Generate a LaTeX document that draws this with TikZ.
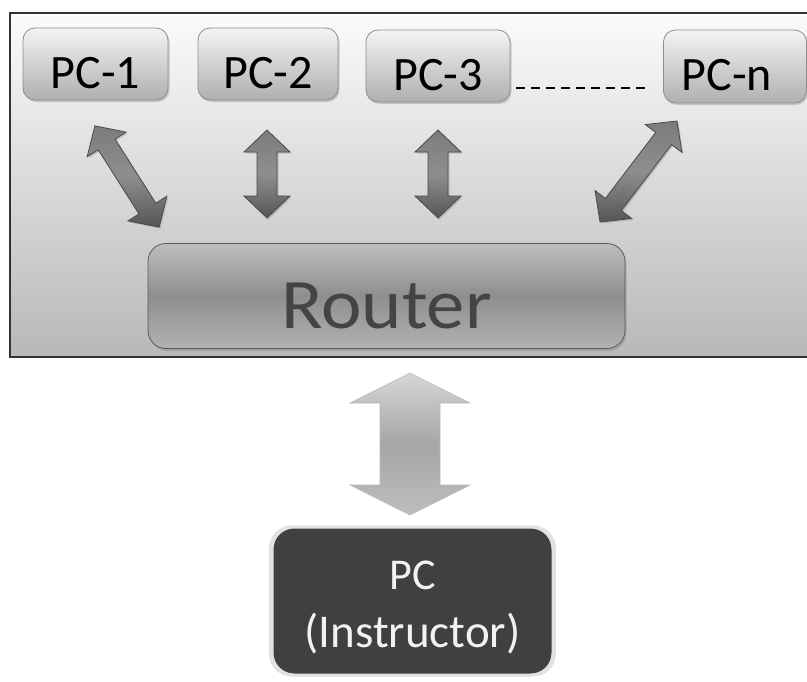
\documentclass[tikz,border=0pt]{standalone}
\usepackage{fontspec}
\setmainfont{Carlito}
\usetikzlibrary{shadows}

\definecolor{framedark}{HTML}{333333}
\definecolor{frametop}{HTML}{FBFBFB}
\definecolor{framebot}{HTML}{B8B8B8}
\definecolor{pctop}{HTML}{F4F4F4}
\definecolor{pcbot}{HTML}{AFAFAF}
\definecolor{pcedge}{HTML}{8E8E8E}
\definecolor{routertop}{HTML}{BEBEBE}
\definecolor{routermid}{HTML}{8E8E8E}
\definecolor{routerbot}{HTML}{B2B2B2}
\definecolor{routertext}{HTML}{444444}
\definecolor{instrfill}{HTML}{404040}
\definecolor{instredge}{HTML}{E2E2E2}
\definecolor{instrtext}{HTML}{F2F2F2}
\definecolor{arrowtop}{HTML}{7C7C7C}
\definecolor{arrowmid}{HTML}{8E8E8E}
\definecolor{arrowbot}{HTML}{555555}
\definecolor{arrowedge}{HTML}{4A4A4A}
\definecolor{bigtop}{HTML}{D6D6D6}
\definecolor{bigmid}{HTML}{A6A6A6}
\definecolor{bigbot}{HTML}{BDBDBD}

\tikzset{
  pcbox/.style={rounded corners=12pt, draw=pcedge, line width=0.8pt,
    top color=pctop, bottom color=pcbot,
    drop shadow={opacity=0.35, shadow xshift=1.5pt, shadow yshift=-2pt},
    font=\fontsize{48}{52}\selectfont, text=black, inner sep=0pt,
    text height=48pt, text depth=0pt},
  routerbox/.style={rounded corners=18pt, draw=gray!70!black, line width=0.8pt,
    top color=routertop, bottom color=routerbot, middle color=routermid,
    drop shadow={opacity=0.4, shadow xshift=1.5pt, shadow yshift=-2.5pt},
    font=\fontsize{71}{76}\selectfont, text=routertext, inner sep=0pt,
    text height=64pt, text depth=0pt},
  instrbox/.style={rounded corners=22pt, fill=instrfill, draw=instredge,
    line width=3pt, inner sep=0pt,
    drop shadow={opacity=0.25, shadow xshift=0pt, shadow yshift=0pt, shadow scale=1.02}},
  instrtext/.style={text=instrtext, inner sep=0pt, anchor=base},
  smallarrow/.style={draw=arrowedge, line width=0.8pt, line join=miter,
    top color=arrowtop, bottom color=arrowbot, middle color=arrowmid,
    drop shadow={opacity=0.35, shadow xshift=1.5pt, shadow yshift=-1.5pt}},
  bigarrow/.style={draw=gray!55, line width=0.6pt,
    top color=bigtop, bottom color=bigbot, middle color=bigmid},
  % double-headed block arrow along the local x axis:
  % #1 length, #2 head half width, #3 shaft half width, #4 head length, #5 style
  pics/twoway/.style n args={5}{code={
    \path[#5] (-#1/2,0) -- ({-#1/2+#4},#2) -- ({-#1/2+#4},#3)
      -- ({#1/2-#4},#3) -- ({#1/2-#4},#2) -- (#1/2,0)
      -- ({#1/2-#4},-#2) -- ({#1/2-#4},-#3) -- ({-#1/2+#4},-#3)
      -- ({-#1/2+#4},-#2) -- cycle;
  }}
}

\begin{document}
\begin{tikzpicture}[x=1pt, y=-1pt]
  \useasboundingbox (0,0) rectangle (807,681);

  % shaded frame around the lab network (open on the right)
  \shade[top color=frametop, bottom color=framebot] (10,13) rectangle (807,357);
  \draw[framedark, line width=1.4pt] (807,13) -- (10,13) -- (10,357) -- (807,357);

  % workstations
  \node[pcbox, minimum width=145pt, minimum height=72pt] (pc1) at (95.5,64) {PC-1};
  \node[pcbox, minimum width=140pt, minimum height=72pt] (pc2) at (268,64) {PC-2};
  \node[pcbox, minimum width=144pt, minimum height=72pt] (pc3) at (438,66) {PC-3};
  \node[pcbox, minimum width=143pt, minimum height=73pt] (pcn) at (735,66.5) {\hspace*{-16pt}PC-n};

  % ellipsis between PC-3 and PC-n
  \draw[black, line width=1.1pt, dash pattern=on 9pt off 6pt]
    ([xshift=6pt,yshift=-22pt]pc3.east) -- ([xshift=-16pt,yshift=-21.5pt]pcn.west);

  % router
  \node[routerbox, minimum width=477pt, minimum height=105pt] (router) at (386.5,296)
    {\scalebox{1.08}[1]{Router}};

  % instructor machine
  \node[instrbox, minimum width=281pt, minimum height=148pt] (instr) at (412.5,601) {};
  \node[instrtext, font=\fontsize{44}{46}\selectfont] (instrA) at (412.5,589) {PC};
  \node[instrtext, font=\fontsize{47}{50}\selectfont] (instrB) at (412.5,647) {(Instructor)};

  % links between the workstations and the router
  \pic[rotate=-57.6] at (127,176.5) {twoway={120}{23}{10}{22}{smallarrow}};
  \pic[rotate=90] at (267,174) {twoway={88}{23}{10}{22}{smallarrow}};
  \pic[rotate=90] at (438,174) {twoway={88}{23}{10}{22}{smallarrow}};
  \pic[rotate=52.7] at (638.5,171.5) {twoway={127}{23}{10}{22}{smallarrow}};

  % link between the router and the instructor machine
  \pic[rotate=90] at (410,444) {twoway={142}{60}{30}{30}{bigarrow}};
\end{tikzpicture}
\end{document}
